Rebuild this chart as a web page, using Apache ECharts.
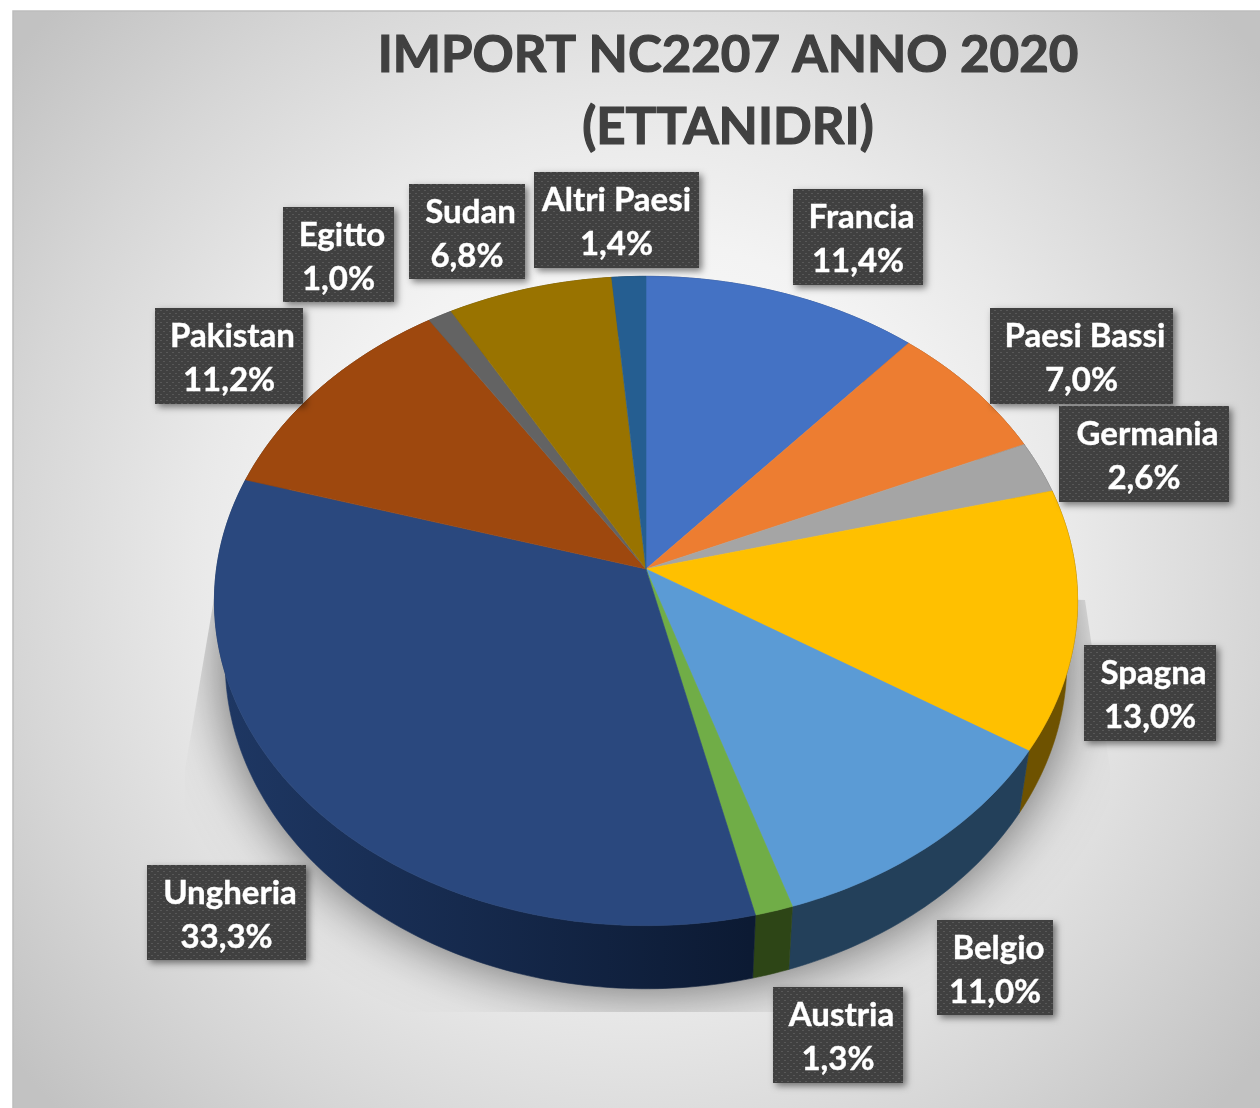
<!DOCTYPE html>
<html lang="it">
<head>
<meta charset="utf-8">
<title>Import NC2207 anno 2020</title>
<script src="https://cdn.jsdelivr.net/npm/echarts@6/dist/echarts.min.js"></script>
<style>
  html, body { margin: 0; padding: 0; background: #fff; }
  #chart { width: 1260px; height: 1108px; }
</style>
</head>
<body>
<div id="chart"></div>
<script>
// values, clockwise from 12 o'clock
var paesi = ['Francia', 'Paesi Bassi', 'Germania', 'Spagna', 'Belgio', 'Austria', 'Ungheria', 'Pakistan', 'Egitto', 'Sudan', 'Altri Paesi'];
var quote = [11.4, 7.0, 2.6, 13.0, 11.0, 1.3, 33.3, 11.2, 1.0, 6.8, 1.4];

var topColors = ['#4472C4', '#ED7D31', '#A5A5A5', '#FFC000', '#5B9BD5', '#70AD47', '#2A487E', '#9E480E', '#636363', '#997300', '#255E91'];
var sideColors = ['#294477', '#8E4B1D', '#636363', '#6E5200', '#23405A', '#2D4516', '#1A2E55', '#5F2B08', '#3B3B3B', '#5C4500', '#163855'];

// label boxes: x0, y0, x1, y1 in page pixels
var labelBoxes = [
  [793, 189, 923, 285], [990, 308, 1173, 404], [1059, 406, 1229, 502], [1084, 645, 1216, 741],
  [937, 920, 1053, 1015], [773, 987, 903, 1083], [147, 865, 306, 960], [155, 308, 303, 404],
  [283, 207, 394, 302], [409, 184, 525, 279], [534, 172, 699, 268]
];

// perspective disc: apex of the slices and how the unit circle is projected
var apexX = 646, apexY = 569, discW = 429.5, discH = 321.5, tilt = 0.0985;

var totale = quote.reduce(function (a, b) { return a + b; }, 0);
var cumul = 0;
var fette = quote.map(function (v, i) {
  var row = [i, v, cumul];
  cumul += v;
  return row;
});

function topPoint(deg) {
  var a = deg * Math.PI / 180, u = Math.sin(a), v = Math.cos(a), w = 1 + tilt * v;
  return [apexX + discW * u / w, apexY - discH * v / w];
}
function bottomPoint(deg) {
  var p = topPoint(deg);
  return [apexX + (p[0] - apexX) * 0.975, apexY + (p[1] - apexY) * 1.006 + 61];
}
function arc(fn, from, to) {
  var pts = [], n = Math.max(2, Math.ceil(to - from));
  for (var k = 0; k <= n; k++) pts.push(fn(from + (to - from) * k / n));
  return pts;
}
function angles(api) {
  var from = api.value(2) / totale * 360;
  return [from, from + api.value(1) / totale * 360];
}

function renderTop(params, api) {
  var a = angles(api), col = topColors[api.value(0)];
  return {
    type: 'polygon',
    shape: { points: [[apexX, apexY]].concat(arc(topPoint, a[0], a[1])) },
    style: { fill: col, stroke: col, lineWidth: 0.6 }
  };
}

function renderSide(params, api) {
  var a = angles(api), i = api.value(0), col = sideColors[i];
  if (paesi[i] === 'Ungheria') {
    col = new echarts.graphic.LinearGradient(225, 0, 750, 0, [
      { offset: 0, color: '#1E3763' }, { offset: 1, color: '#0C1A33' }
    ], true);
  }
  var pts = arc(topPoint, a[0], a[1]).concat(arc(bottomPoint, a[0], a[1]).reverse());
  return { type: 'polygon', shape: { points: pts }, style: { fill: col, stroke: col, lineWidth: 0.6 } };
}

function renderShadow() {
  // soft shadow cut off with hard edges like the original picture
  return {
    type: 'polygon',
    shape: { points: arc(bottomPoint, 0, 360) },
    clipPath: {
      type: 'polygon',
      shape: { points: [[218, 575], [185, 770], [185, 1012], [1110, 1012], [1110, 770], [1085, 600]] }
    },
    style: { fill: '#b4b4b4', shadowBlur: 58, shadowColor: 'rgba(0,0,0,0.6)' }
  };
}

// dotted texture of the label boxes
var dots = document.createElement('canvas');
dots.width = dots.height = 6;
var dc = dots.getContext('2d');
dc.fillStyle = '#404040';
dc.fillRect(0, 0, 6, 6);
dc.fillStyle = '#585858';
dc.fillRect(1, 1, 2, 1);
dc.fillRect(4, 4, 2, 1);

function percento(v) { return v.toFixed(1).replace('.', ',') + '%'; }

function renderLabel(params, api) {
  var i = api.value(0), b = labelBoxes[i], cx = (b[0] + b[2]) / 2;
  var shift = paesi[i] === 'Altri Paesi' ? 0 : 3.5;
  var testo = { font: 'bold 33px Lato', fill: '#fff', align: 'center', verticalAlign: 'middle', stroke: '#fff', lineWidth: 0.4 };
  return {
    type: 'group',
    children: [
      {
        type: 'rect',
        shape: { x: b[0], y: b[1], width: b[2] - b[0], height: b[3] - b[1] },
        style: {
          fill: { image: dots, repeat: 'repeat' },
          shadowBlur: 7, shadowOffsetX: 3, shadowOffsetY: 3, shadowColor: 'rgba(0,0,0,0.5)'
        }
      },
      { type: 'text', style: Object.assign({ x: cx + shift, y: b[1] + 28, text: paesi[i] }, testo) },
      { type: 'text', style: Object.assign({ x: cx, y: b[1] + 72, text: percento(api.value(1)) }, testo) }
    ]
  };
}

var chart = echarts.init(document.getElementById('chart'), null, { renderer: 'canvas' });
chart.setOption({
  animation: false,
  title: {
    text: 'IMPORT NC2207 ANNO 2020\n(ETTANIDRI)',
    left: 723,
    top: 15,
    textAlign: 'center',
    textStyle: {
      fontFamily: 'Lato', fontWeight: 'bold', fontSize: 51, lineHeight: 72, color: '#404040',
      textBorderColor: '#404040', textBorderWidth: 1.2
    }
  },
  graphic: [{
    type: 'rect',
    z: -10,
    shape: { x: 13, y: 11, width: 1260, height: 1110 },
    style: {
      fill: new echarts.graphic.RadialGradient(636, 558, 800, [
        { offset: 0, color: '#ffffff' },
        { offset: 0.4, color: '#f3f3f3' },
        { offset: 0.55, color: '#e9e9e9' },
        { offset: 0.78, color: '#d6d6d6' },
        { offset: 1, color: '#c2c2c2' }
      ], true),
      stroke: '#bdbdbd',
      lineWidth: 1.5
    }
  }],
  series: [
    { type: 'custom', coordinateSystem: 'none', z: 1, silent: true, data: [[0]], renderItem: renderShadow },
    { type: 'custom', coordinateSystem: 'none', z: 2, silent: true, data: fette, renderItem: renderSide },
    { type: 'custom', coordinateSystem: 'none', z: 3, silent: true, data: fette, renderItem: renderTop },
    { type: 'custom', coordinateSystem: 'none', z: 4, silent: true, data: fette, renderItem: renderLabel }
  ]
});
</script>
</body>
</html>
